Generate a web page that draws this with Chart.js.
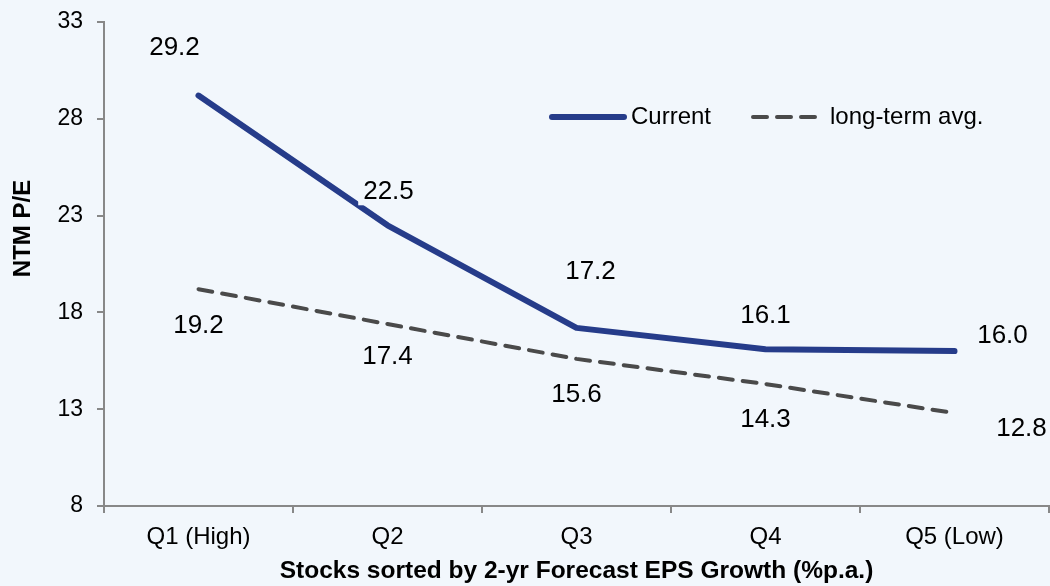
<!DOCTYPE html>
<html><head><meta charset="utf-8">
<script src="https://cdn.jsdelivr.net/npm/chart.js@4/dist/chart.umd.min.js"></script>
<style>html,body{margin:0;padding:0;background:#F2F7FC;}#wrap{width:1050px;height:586px;}</style>
</head><body><div id="wrap"><canvas id="c" width="1050" height="586"></canvas></div>
<script>
const categories = ['Q1 (High)', 'Q2', 'Q3', 'Q4', 'Q5 (Low)'];
const currentPE = [29.2, 22.5, 17.2, 16.1, 16.0];
const longTermAvgPE = [19.2, 17.4, 15.6, 14.3, 12.8];
const yTicks = [8, 13, 18, 23, 28, 33];
const seriesNames = ['Current', 'long-term avg.'];
const xTitle = 'Stocks sorted by 2-yr Forecast EPS Growth (%p.a.)';
const yTitle = 'NTM P/E';

const FONT = '"Liberation Sans", Arial, sans-serif';
const BG = '#F2F7FC';
// label offsets (dx, dy) in px relative to point
const labelOffsets = [
  [[-24, -48], [1, -33], [14, -56], [0, -33], [48, -15]],
  [[0, 37], [0, 33], [0, 36], [0, 36], [67, 16]]
];

const labelPlugin = {
  id: 'labels',
  afterDatasetsDraw(chart) {
    const ctx = chart.ctx;
    ctx.save();
    ctx.font = '26px ' + FONT;
    ctx.textAlign = 'center';
    ctx.textBaseline = 'middle';
    chart.data.datasets.forEach((ds, di) => {
      const meta = chart.getDatasetMeta(di);
      meta.data.forEach((pt, i) => {
        const o = labelOffsets[di][i];
        const t = ds.data[i].toFixed(1);
        const w = ctx.measureText(t).width;
        const cx = pt.x + o[0], cy = pt.y + o[1];
        ctx.fillStyle = BG;
        ctx.fillRect(cx - w / 2 - 5, cy - 14, w + 10, 27);
        ctx.fillStyle = '#000';
        ctx.fillText(t, cx, cy);
      });
    });
    // legend
    ctx.font = '24px ' + FONT;
    const items = [
      {x: 552, w: 72, tx: 631},
      {x: 753, w: 66, tx: 830}
    ];
    const ly = 117;
    chart.data.datasets.forEach((ds, di) => {
      const it = items[di];
      ctx.beginPath();
      ctx.strokeStyle = ds.borderColor;
      ctx.lineWidth = ds.borderWidth;
      ctx.lineCap = 'round';
      ctx.setLineDash(ds.borderDash || []);
      ctx.moveTo(it.x, ly);
      ctx.lineTo(it.x + it.w, ly);
      ctx.stroke();
      ctx.setLineDash([]);
      ctx.textAlign = 'left';
      ctx.fillStyle = '#000';
      ctx.fillText(ds.label, it.tx, ly);
    });
    // y title
    ctx.translate(23.5, 228.5);
    ctx.rotate(-Math.PI / 2);
    ctx.font = 'bold 24px ' + FONT;
    ctx.textAlign = 'center';
    ctx.fillText(yTitle, 0, 0);
    ctx.restore();
  }
};

new Chart(document.getElementById('c'), {
  type: 'line',
  data: {
    labels: categories,
    datasets: [
      {label: seriesNames[0], data: currentPE, borderColor: '#263C8A', borderWidth: 6, pointRadius: 0, tension: 0, borderCapStyle: 'round', borderJoinStyle: 'round'},
      {label: seriesNames[1], data: longTermAvgPE, borderColor: '#4A4A4A', borderWidth: 4, borderDash: [14, 10], pointRadius: 0, tension: 0, borderCapStyle: 'round'}
    ]
  },
  options: {
    responsive: false,
    animation: false,
    layout: {padding: {top: 22, right: 1, left: 0, bottom: 0}},
    plugins: {legend: {display: false}, tooltip: {enabled: false}},
    scales: {
      x: {
        offset: true,
        grid: {offset: true, drawOnChartArea: false, drawTicks: true, tickLength: 7, color: '#888', lineWidth: 2},
        border: {color: '#888', width: 2},
        ticks: {font: {family: FONT, size: 24}, color: '#000', padding: 10},
        title: {display: true, text: xTitle, font: {family: FONT, size: 24.5, weight: 'bold'}, color: '#000', padding: {top: 0, bottom: 0}},
        afterFit(s) { s.height = 80; s.paddingLeft = 0; s.paddingRight = 0; }
      },
      y: {
        min: 8, max: 33,
        afterBuildTicks(s) { s.ticks = yTicks.map(v => ({value: v})); },
        grid: {drawOnChartArea: false, drawTicks: true, tickLength: 7, color: '#888', lineWidth: 2},
        border: {color: '#888', width: 2},
        ticks: {font: {family: FONT, size: 23}, color: '#000', padding: 14},
        afterFit(s) { s.width = 104; s.paddingTop = 0; s.paddingBottom = 0; }
      }
    }
  },
  plugins: [labelPlugin]
});
</script></body></html>
